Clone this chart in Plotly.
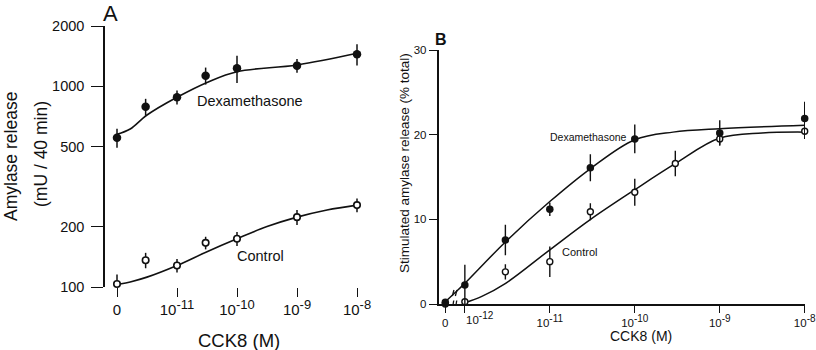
import math
import plotly.graph_objects as go

W, H = 816, 350
FONT = "Liberation Sans, Arial, Helvetica, sans-serif"
INK = "#111111"

# ---------------- Panel A data ----------------
conc_A = [0, 3e-12, 1e-11, 3e-11, 1e-10, 1e-9, 1e-8]
dex_A = [555, 792, 883, 1131, 1231, 1269, 1445]
dex_A_err = [60, 75, 70, 110, 190, 100, 175]
ctl_A = [103.5, 136, 128, 166, 174, 223, 256]
ctl_A_err = [12, 12, 10, 12, 14, 19, 20]
# fitted curves (log10 concentration position, value)
dex_A_curve_x = [-12.0, -11.78, -11.5, -11.0, -10.47, -10.0, -9.0, -8.0]
dex_A_curve_y = [577, 613, 720, 883, 1056, 1184, 1279, 1462]
ctl_A_curve_x = [-11.95, -11.78, -11.5, -11.0, -10.5, -10.0, -9.5, -9.0, -8.5, -8.0]
ctl_A_curve_y = [103.5, 106, 112, 128, 150, 174, 200, 223, 242, 256]
ZERO_A = -12.0
BREAK_A_IDX = 1
yticks_A = [100, 200, 500, 1000, 2000]
xtick_exp_A = [-11, -10, -9, -8]

# ---------------- Panel B data ----------------
conc_B_dex = [0, 1e-12, 3e-12, 1e-11, 3e-11, 1e-10, 1e-9, 1e-8]
dex_B = [0.2, 2.24, 7.56, 11.18, 16.1, 19.5, 20.2, 21.9]
dex_B_err = [0, 2.4, 1.8, 0.8, 1.6, 1.7, 1.5, 2.0]
conc_B_ctl = [0, 1e-12, 3e-12, 1e-11, 3e-11, 1e-10, 3e-10, 1e-9, 1e-8]
ctl_B = [0.0, 0.27, 3.8, 5.0, 10.9, 13.2, 16.6, 19.5, 20.4]
ctl_B_err = [0, 0.3, 0.9, 1.8, 1.0, 1.6, 1.5, 0.7, 0.9]
dex_B_curve_x = [-12.23, -12.12, -12.0, -11.52, -11.0, -10.52, -10.0, -9.55, -9.0, -8.0]
dex_B_curve_y = [0.27, 1.3, 2.44, 7.36, 12.1, 16.0, 19.4, 20.3, 20.7, 21.1]
ctl_B_curve_x = [-12.0, -11.8, -11.52, -11.0, -10.52, -10.0, -9.52, -9.0, -8.5, -8.0]
ctl_B_curve_y = [0.15, 0.9, 2.44, 6.4, 10.0, 13.5, 16.6, 19.6, 20.2, 20.3]
ZERO_B = -12.23
BREAK_B_IDX = 1
yticks_B = [0, 10, 20, 30]
xtick_exp_B = [-12, -11, -10, -9, -8]


def pos(c, zero):
    return math.log10(c) if c > 0 else zero


def px(x):
    return x / W


def py(y):
    return 1 - y / H


def pow_label(e, sup_size):
    return "10<sup><span style='font-size:%gpx'>%d</span></sup>" % (sup_size, e)


fig = go.Figure()

# ---------- Panel A traces ----------
fig.add_trace(go.Scatter(x=dex_A_curve_x, y=dex_A_curve_y, mode="lines",
                         line=dict(color=INK, width=1.6, shape="spline", smoothing=1.0),
                         xaxis="x", yaxis="y", hoverinfo="skip"))
fig.add_trace(go.Scatter(x=ctl_A_curve_x, y=ctl_A_curve_y, mode="lines",
                         line=dict(color=INK, width=1.6, shape="spline", smoothing=1.0),
                         xaxis="x", yaxis="y", hoverinfo="skip"))
fig.add_trace(go.Scatter(x=[pos(c, ZERO_A) for c in conc_A], y=ctl_A, mode="markers",
                         marker=dict(symbol="circle", size=6.5, color="white",
                                     line=dict(color=INK, width=1.6)),
                         error_y=dict(type="data", array=ctl_A_err, color=INK, thickness=1.5, width=0),
                         cliponaxis=False, xaxis="x", yaxis="y"))
fig.add_trace(go.Scatter(x=[pos(c, ZERO_A) for c in conc_A], y=dex_A, mode="markers",
                         marker=dict(symbol="circle", size=8.5, color=INK, line=dict(width=0)),
                         error_y=dict(type="data", array=dex_A_err, color=INK, thickness=1.5, width=0),
                         cliponaxis=False, xaxis="x", yaxis="y"))

# ---------- Panel B traces ----------
fig.add_trace(go.Scatter(x=dex_B_curve_x, y=dex_B_curve_y, mode="lines",
                         line=dict(color=INK, width=1.5, shape="spline", smoothing=1.0),
                         xaxis="x2", yaxis="y2", hoverinfo="skip"))
fig.add_trace(go.Scatter(x=ctl_B_curve_x, y=ctl_B_curve_y, mode="lines",
                         line=dict(color=INK, width=1.5, shape="spline", smoothing=1.0),
                         xaxis="x2", yaxis="y2", hoverinfo="skip"))
fig.add_trace(go.Scatter(x=[pos(c, ZERO_B) for c in conc_B_ctl], y=ctl_B, mode="markers",
                         marker=dict(symbol="circle", size=6, color="white",
                                     line=dict(color=INK, width=1.4)),
                         error_y=dict(type="data", array=ctl_B_err, color=INK, thickness=1.4, width=0),
                         cliponaxis=False, xaxis="x2", yaxis="y2"))
fig.add_trace(go.Scatter(x=[pos(c, ZERO_B) for c in conc_B_dex], y=dex_B, mode="markers",
                         marker=dict(symbol="circle", size=7.5, color=INK, line=dict(width=0)),
                         error_y=dict(type="data", array=dex_B_err, color=INK, thickness=1.4, width=0),
                         cliponaxis=False, xaxis="x2", yaxis="y2"))

# ---------- break marks (pixel-sized shapes anchored on curve/axis points) ----------
shapes = []


def break_mark(xref, yref, xa, ya, half_h=5, gap=3.5, tilt=1.2):
    for dx in (-gap / 2, gap / 2):
        shapes.append(dict(type="line", xref=xref, yref=yref,
                           xsizemode="pixel", ysizemode="pixel",
                           xanchor=xa, yanchor=ya,
                           x0=dx - tilt, x1=dx + tilt, y0=-half_h, y1=half_h,
                           line=dict(color=INK, width=1.3)))


break_mark("x", "y", dex_A_curve_x[BREAK_A_IDX], math.log10(dex_A_curve_y[BREAK_A_IDX]), half_h=6, gap=4)
break_mark("x", "y", ctl_A_curve_x[BREAK_A_IDX], math.log10(ctl_A_curve_y[BREAK_A_IDX]), half_h=5, gap=4)
break_mark("x2", "y2", dex_B_curve_x[BREAK_B_IDX], dex_B_curve_y[BREAK_B_IDX], half_h=3, gap=3, tilt=0.8)
break_mark("x2", "y2", dex_B_curve_x[BREAK_B_IDX], 0, half_h=3.5, gap=3, tilt=0.6)

# ---------- annotations ----------
ann = []


def text(x, y, s, size, angle=0, bold=False, xanchor="center"):
    ann.append(dict(x=px(x), y=py(y), xref="paper", yref="paper", text=("<b>%s</b>" % s) if bold else s,
                    showarrow=False, textangle=angle, xanchor=xanchor, yanchor="middle",
                    font=dict(family=FONT, size=size, color=INK)))


text(111, 13, "A", 22)
text(441, 39, "B", 16, bold=True)
text(11, 157, "Amylase release", 17.5, angle=-90)
text(41, 154, "(mU / 40 min)", 17.5, angle=-90)
text(239, 340, "CCK8 (M)", 18.5)
text(404, 163, "Stimulated amylase release (% total)", 13.5, angle=-90)
text(641, 336, "CCK8 (M)", 14)
text(250, 101, "Dexamethasone", 14.5)
text(260, 256, "Control", 14.5)
text(588, 137, "Dexamethasone", 10.5)
text(579, 252, "Control", 11)
# first tick label of panel B sits to the right of its tick (to clear the "0")
text(464, 318, pow_label(-12, 10), 11.5, xanchor="left")

axis_common = dict(showgrid=False, zeroline=False, ticks="outside", tickcolor=INK,
                   linecolor=INK, color=INK, automargin=False)

xA0, xA1 = 105, 370
A_x_left = ZERO_A - (117 - xA0) / 60.0
A_x_right = -8 + (xA1 - 357) / 60.0
xB0, xB1 = 438.5, 805

fig.update_layout(
    template="none",
    width=W, height=H, margin=dict(l=0, r=0, t=0, b=0, pad=0, autoexpand=False),
    paper_bgcolor="white", plot_bgcolor="white", showlegend=False,
    font=dict(family=FONT, color=INK),
    shapes=shapes, annotations=ann,
    xaxis=dict(domain=[px(xA0), px(xA1)], range=[A_x_left, A_x_right], anchor="y",
               showline=False, ticklen=9, tickwidth=1.4,
               tickvals=[ZERO_A] + xtick_exp_A,
               ticktext=["0"] + [pow_label(e, 13) for e in xtick_exp_A],
               tickfont=dict(size=15), **axis_common),
    yaxis=dict(domain=[py(287), py(26)], type="log", range=[2, math.log10(2000)], anchor="x",
               showline=True, linewidth=1.5, ticklen=12, tickwidth=1.4,
               tickvals=yticks_A, ticktext=[str(v) for v in yticks_A],
               tickfont=dict(size=14.5), ticklabelstandoff=4, **axis_common),
    xaxis2=dict(domain=[px(xB0), px(xB1)], range=[ZERO_B - (445.3 - xB0) / 84.9, -8 + (xB1 - 804.7) / 84.9],
                anchor="y2", showline=True, linewidth=1.5, ticklen=7, tickwidth=1.3,
                tickvals=[ZERO_B] + xtick_exp_B,
                ticktext=["0", ""] + [pow_label(e, 10) for e in xtick_exp_B[1:]],
                tickfont=dict(size=11.5), **axis_common),
    yaxis2=dict(domain=[py(304), py(50)], range=[0, 30], anchor="x2",
                showline=True, linewidth=1.5, ticklen=8, tickwidth=1.3,
                tickvals=yticks_B, ticktext=[str(v) for v in yticks_B],
                tickfont=dict(size=11.5), **axis_common),
)

fig.write_html("out.html")
